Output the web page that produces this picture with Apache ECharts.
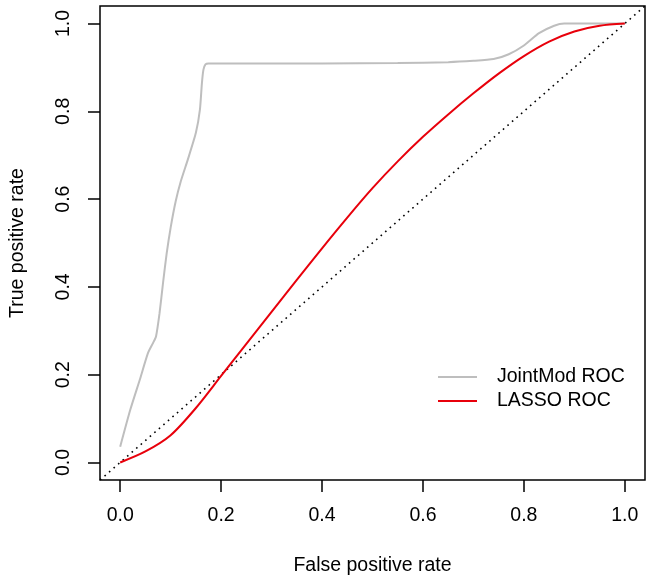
<!DOCTYPE html>
<html>
<head>
<meta charset="utf-8">
<script src="https://cdn.jsdelivr.net/npm/echarts@6/dist/echarts.min.js"></script>
<style>
    html, body { margin: 0; padding: 0; background: #fff; }
    #rocChart { width: 651px; height: 582px; }
</style>
</head>
<body>
<div id="rocChart"></div>
<script>
    // JointMod ROC curve
    const jointFpr = [0, 0.02, 0.039, 0.055, 0.065, 0.071, 0.078, 0.085, 0.092, 0.1, 0.11, 0.12, 0.134, 0.15, 0.158, 0.162, 0.165, 0.169, 0.175, 0.25, 0.4, 0.55, 0.65, 0.7, 0.74, 0.77, 0.8, 0.83, 0.86, 0.88, 0.9, 1.0];
    const jointTpr = [0.036, 0.12, 0.189, 0.249, 0.272, 0.287, 0.34, 0.41, 0.475, 0.535, 0.595, 0.64, 0.69, 0.751, 0.804, 0.865, 0.895, 0.907, 0.909, 0.909, 0.909, 0.91, 0.912, 0.915, 0.919, 0.93, 0.95, 0.978, 0.995, 1.0, 1.0, 1.0];

    // LASSO ROC curve
    const lassoFpr = [0, 0.05, 0.1, 0.15, 0.2, 0.25, 0.3, 0.35, 0.4, 0.45, 0.5, 0.55, 0.6, 0.65, 0.7, 0.75, 0.8, 0.85, 0.9, 0.95, 1.0];
    const lassoTpr = [0, 0.025, 0.062, 0.124, 0.197, 0.27, 0.343, 0.416, 0.488, 0.558, 0.625, 0.686, 0.742, 0.793, 0.841, 0.886, 0.926, 0.959, 0.982, 0.995, 1.0];

    // chance line, drawn across the whole plot region like abline()
    const chanceLine = [-0.04, 1.04];

    const axisTicks = [0, 0.2, 0.4, 0.6, 0.8, 1.0];
    const axisMin = -0.04;
    const axisMax = 1.04;

    function pairs (xs, ys) {
        return xs.map(function (x, i) { return [x, ys[i]]; });
    }

    const fontFamily = "'Liberation Sans', Arial, Helvetica, sans-serif";
    const fontSize = 19.5;

    function makeAxis (name, isY) {
        return {
            type: 'value',
            min: axisMin,
            max: axisMax,
            name: name,
            nameLocation: 'middle',
            nameGap: isY ? 72 : 76,
            nameTextStyle: {
                color: '#000',
                fontFamily: fontFamily,
                fontSize: fontSize
            },
            axisLine: { show: false, onZero: false },
            axisTick: {
                show: true,
                inside: false,
                length: 12,
                customValues: axisTicks,
                lineStyle: { color: '#000', width: 1.5 }
            },
            axisLabel: {
                show: true,
                margin: 26,
                rotate: isY ? 90 : 0,
                customValues: axisTicks,
                color: '#000',
                fontFamily: fontFamily,
                fontSize: fontSize,
                formatter: function (v) { return v.toFixed(1); }
            },
            splitLine: { show: false }
        };
    }

    const rocChart = echarts.init(document.getElementById('rocChart'), null, { renderer: 'canvas' });
    rocChart.setOption({
        animation: false,
        backgroundColor: '#fff',
        grid: {
            left: 97,
            right: 6,
            top: 6,
            bottom: 102,
            show: true,
            borderColor: '#000',
            borderWidth: 1.5,
            backgroundColor: 'transparent'
        },
        xAxis: makeAxis('False positive rate', false),
        yAxis: makeAxis('True positive rate', true),
        legend: {
            orient: 'vertical',
            left: 438,
            top: 367,
            padding: 0,
            itemWidth: 39,
            itemHeight: 2,
            itemGap: 4,
            icon: 'rect',
            data: ['JointMod ROC', 'LASSO ROC'],
            textStyle: {
                color: '#000',
                fontFamily: fontFamily,
                fontSize: fontSize,
                lineHeight: 20,
                padding: [0, 0, 0, 15]
            }
        },
        series: [
            {
                name: 'chance',
                type: 'line',
                data: pairs(chanceLine, chanceLine),
                symbol: 'none',
                silent: true,
                lineStyle: { color: '#000', width: 1.6, type: [1.6, 4.4] }
            },
            {
                name: 'JointMod ROC',
                type: 'line',
                data: pairs(jointFpr, jointTpr),
                symbol: 'none',
                smooth: 0.2,
                lineStyle: { color: '#bebebe', width: 2 },
                itemStyle: { color: '#bebebe' }
            },
            {
                name: 'LASSO ROC',
                type: 'line',
                data: pairs(lassoFpr, lassoTpr),
                symbol: 'none',
                smooth: 0.3,
                lineStyle: { color: '#e8000b', width: 2 },
                itemStyle: { color: '#e8000b' }
            }
        ]
    });
</script>
</body>
</html>
